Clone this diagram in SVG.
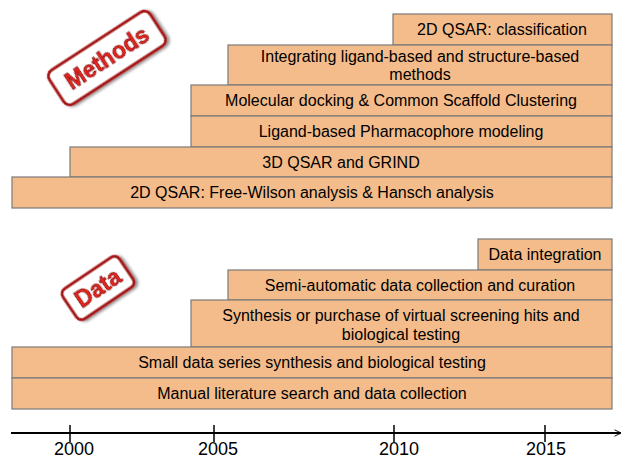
<svg xmlns="http://www.w3.org/2000/svg" width="624" height="459" viewBox="0 0 624 459">
  <defs>
    <filter id="shadow" x="-20%" y="-20%" width="140%" height="140%">
      <feGaussianBlur in="SourceAlpha" stdDeviation="1.5"/>
      <feOffset dx="2" dy="2" result="b"/>
      <feComponentTransfer><feFuncA type="linear" slope="0.45"/></feComponentTransfer>
      <feMerge><feMergeNode/><feMergeNode in="SourceGraphic"/></feMerge>
    </filter>
    <marker id="arrow" viewBox="0 0 10 10" refX="9" refY="5" markerWidth="8" markerHeight="8" orient="auto" markerUnits="userSpaceOnUse">
      <path d="M1,1 L9,5 L1,9" fill="none" stroke="#000" stroke-width="1.2"/>
    </marker>
  </defs>
  <style>
    .bar { fill: #f4bc8a; stroke: #7a7a7a; stroke-width: 1.2; }
    .lbl { font-family: "Liberation Sans", Arial, sans-serif; font-size: 16px; fill: #000; text-anchor: middle; }
    .year { font-family: "Liberation Sans", Arial, sans-serif; font-size: 18px; fill: #000; text-anchor: middle; }
    .badge { fill: #fff; stroke: #a51414; stroke-width: 3; }
    .stamp { font-family: "Liberation Sans", Arial, sans-serif; font-weight: bold; fill: #e3261e; stroke: #8e0e0e; stroke-width: 0.8; text-anchor: middle; }
  </style>

  <!-- Methods timeline -->
  <g id="m-2dqsar-class">
    <rect class="bar" x="393" y="14" width="219" height="31"/>
    <text class="lbl" x="502" y="35">2D QSAR: classification</text>
  </g>
  <g id="m-integrating">
    <rect class="bar" x="228" y="45" width="384" height="40"/>
    <text class="lbl" x="420" y="62">Integrating ligand-based and structure-based</text>
    <text class="lbl" x="420" y="80">methods</text>
  </g>
  <g id="m-docking">
    <rect class="bar" x="191" y="85" width="421" height="31"/>
    <text class="lbl" x="401" y="106">Molecular docking &amp; Common Scaffold Clustering</text>
  </g>
  <g id="m-pharmacophore">
    <rect class="bar" x="191" y="116" width="421" height="31"/>
    <text class="lbl" x="401" y="137">Ligand-based Pharmacophore modeling</text>
  </g>
  <g id="m-3dqsar">
    <rect class="bar" x="70" y="147" width="542" height="30"/>
    <text class="lbl" x="341" y="168">3D QSAR and GRIND</text>
  </g>
  <g id="m-2dqsar-fw">
    <rect class="bar" x="12" y="177" width="600" height="31"/>
    <text class="lbl" x="312" y="198">2D QSAR: Free-Wilson analysis &amp; Hansch analysis</text>
  </g>

  <!-- Data timeline -->
  <g id="d-integration">
    <rect class="bar" x="478" y="239" width="134" height="31"/>
    <text class="lbl" x="545" y="260">Data integration</text>
  </g>
  <g id="d-semiauto">
    <rect class="bar" x="228" y="270" width="384" height="30"/>
    <text class="lbl" x="420" y="291">Semi-automatic data collection and curation</text>
  </g>
  <g id="d-synthesis">
    <rect class="bar" x="191" y="300" width="421" height="47"/>
    <text class="lbl" x="401" y="321">Synthesis or purchase of virtual screening hits and</text>
    <text class="lbl" x="401" y="340">biological testing</text>
  </g>
  <g id="d-smallseries">
    <rect class="bar" x="12" y="347" width="600" height="31"/>
    <text class="lbl" x="312" y="368">Small data series synthesis and biological testing</text>
  </g>
  <g id="d-manual">
    <rect class="bar" x="12" y="378" width="600" height="31"/>
    <text class="lbl" x="312" y="399">Manual literature search and data collection</text>
  </g>

  <!-- Stamps -->
  <g id="stamp-methods" transform="translate(107,58) rotate(-33)" filter="url(#shadow)">
    <rect class="badge" x="-60" y="-20" width="120" height="40" rx="7"/>
    <text class="stamp" x="0" y="8" font-size="23">Methods</text>
  </g>
  <g id="stamp-data" transform="translate(98,288) rotate(-34)" filter="url(#shadow)">
    <rect class="badge" x="-34" y="-18" width="68" height="36" rx="6"/>
    <text class="stamp" x="0" y="8" font-size="23">Data</text>
  </g>

  <!-- Time axis -->
  <g id="axis">
    <line x1="11" y1="433" x2="621" y2="433" stroke="#000" stroke-width="2" marker-end="url(#arrow)"/>
    <line x1="70" y1="425" x2="70" y2="442" stroke="#000" stroke-width="1.5"/>
    <line x1="214" y1="425" x2="214" y2="442" stroke="#000" stroke-width="1.5"/>
    <line x1="394" y1="425" x2="394" y2="442" stroke="#000" stroke-width="1.5"/>
    <line x1="545" y1="425" x2="545" y2="442" stroke="#000" stroke-width="1.5"/>
    <text class="year" x="74" y="455">2000</text>
    <text class="year" x="218" y="455">2005</text>
    <text class="year" x="399" y="455">2010</text>
    <text class="year" x="546" y="455">2015</text>
  </g>
</svg>
